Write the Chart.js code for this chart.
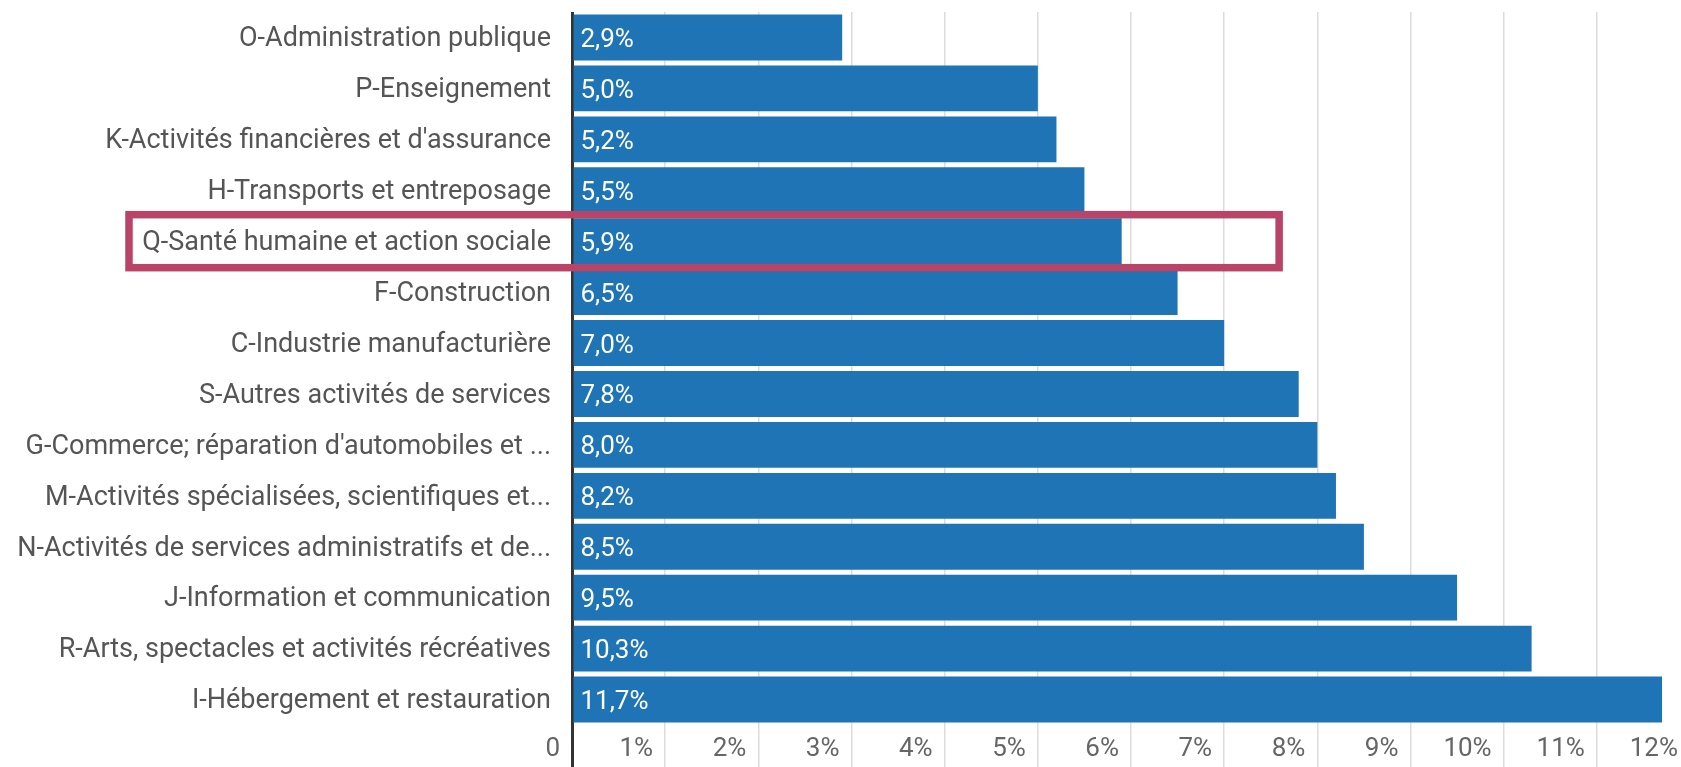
<!DOCTYPE html>
<html>
<head>
<meta charset="utf-8">
<script src="https://cdn.jsdelivr.net/npm/chart.js@4/dist/chart.umd.min.js"></script>
<style>
  html, body { margin: 0; padding: 0; background: #fff; overflow: hidden; }
  #wrap { width: 1691px; height: 767px; }
</style>
</head>
<body>
<div id="wrap"><canvas id="chartSecteurs" width="1691" height="767"></canvas></div>
<script>
const secteurs = [
  "O-Administration publique",
  "P-Enseignement",
  "K-Activités financières et d'assurance",
  "H-Transports et entreposage",
  "Q-Santé humaine et action sociale",
  "F-Construction",
  "C-Industrie manufacturière",
  "S-Autres activités de services",
  "G-Commerce; réparation d'automobiles et ...",
  "M-Activités spécialisées, scientifiques et...",
  "N-Activités de services administratifs et de...",
  "J-Information et communication",
  "R-Arts, spectacles et activités récréatives",
  "I-Hébergement et restauration",
];
const taux = [2.9, 5.0, 5.2, 5.5, 5.9, 6.5, 7.0, 7.8, 8.0, 8.2, 8.5, 9.5, 10.3, 11.7];
const ticksX = [0, 1, 2, 3, 4, 5, 6, 7, 8, 9, 10, 11, 12];
const secteurSurligne = "Q-Santé humaine et action sociale";

const fmt = (v) => v.toFixed(1).replace(".", ",") + "%";

// valeurs écrites en blanc au début de chaque barre
const valeursPlugin = {
  id: "valeurs",
  afterDatasetsDraw(chart) {
    const ctx = chart.ctx;
    const meta = chart.getDatasetMeta(0);
    ctx.save();
    ctx.fillStyle = "#ffffff";
    ctx.font = "26px Roboto";
    ctx.textAlign = "left";
    ctx.textBaseline = "middle";
    meta.data.forEach((bar, i) => {
      ctx.fillText(fmt(taux[i]), bar.base + 7, bar.y + 3);
    });
    ctx.restore();
  },
};

// cadre autour du secteur mis en avant
const cadrePlugin = {
  id: "cadre",
  afterDraw(chart) {
    const ctx = chart.ctx;
    const y = chart.scales.y;
    const x = chart.scales.x;
    const idx = secteurs.indexOf(secteurSurligne);
    const cy = y.getPixelForValue(idx);
    const half = 26.5;
    const left = chart.chartArea.left - 443;
    const right = x.getPixelForValue(7.59);
    ctx.save();
    ctx.strokeStyle = "#b94468";
    ctx.lineWidth = 7.5;
    ctx.strokeRect(left, cy - half, right - left, half * 2);
    ctx.restore();
  },
};

const ctx = document.getElementById("chartSecteurs").getContext("2d");

new Chart(ctx, {
  type: "bar",
  data: {
    labels: secteurs,
    datasets: [
      {
        data: taux,
        backgroundColor: "#1f74b5",
        borderWidth: 0,
        barPercentage: 0.9,
        categoryPercentage: 1,
      },
    ],
  },
  options: {
    indexAxis: "y",
    responsive: false,
    animation: false,
    layout: { padding: { top: 12, right: 1, left: 0, bottom: 0 } },
    plugins: {
      legend: { display: false },
      tooltip: { enabled: false },
    },
    scales: {
      x: {
        min: 0,
        max: 12,
        afterBuildTicks: (scale) => {
          scale.ticks = ticksX.map((v) => ({ value: v }));
        },
        afterFit: (scale) => {
          scale.height = 42;
          scale.paddingLeft = 0;
          scale.paddingRight = 0;
        },
        border: { display: false },
        grid: {
          color: (c) => (c.tick && c.tick.value === 0 ? "#333333" : "#dcdcdc"),
          lineWidth: (c) => (c.tick && c.tick.value === 0 ? 3 : 1.5),
          drawTicks: true,
          tickLength: 42,
        },
        ticks: {
          align: "end",
          labelOffset: -12,
          padding: -33,
          color: "#666666",
          font: { family: "Roboto", size: 26 },
          maxRotation: 0,
          autoSkip: false,
          callback: (v) => (v === 0 ? "0" : v + "%"),
        },
      },
      y: {
        afterFit: (scale) => {
          scale.width = 572;
          scale.paddingTop = 0;
          scale.paddingBottom = 0;
        },
        border: { display: false },
        grid: { display: false, drawTicks: false },
        ticks: {
          padding: 21,
          labelOffset: 2,
          color: "#555555",
          font: { family: "Roboto", size: 27 },
          autoSkip: false,
        },
      },
    },
  },
  plugins: [valeursPlugin, cadrePlugin],
});
</script>
</body>
</html>
